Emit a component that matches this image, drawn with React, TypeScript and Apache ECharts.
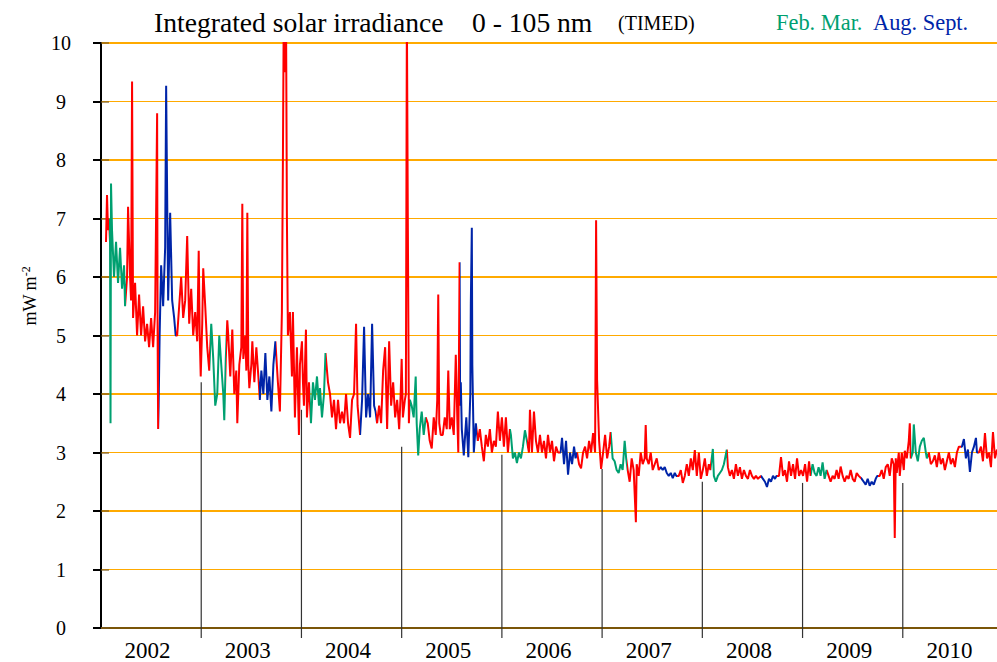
import React, { useEffect, useRef } from "react";
import * as echarts from "echarts";

const yearLabels = ["2002", "2003", "2004", "2005", "2006", "2007", "2008", "2009", "2010"];
const boundaryYears = [2003, 2004, 2005, 2006, 2007, 2008, 2009, 2010];
const boundaryTops = [4.2, 3.73, 3.1, 2.96, 2.72, 2.5, 2.48, 2.48];

const irr2002 = [
  [2002.05, 6.6], [2002.06, 7.4], [2002.07, 6.8], [2002.08, 7.0], [2002.09, 6.6], [2002.095, 3.5], [2002.10, 7.6], [2002.11, 6.8], [2002.13, 6.0], [2002.15, 6.6], [2002.17, 5.9], [2002.19, 6.5], [2002.21, 5.8], [2002.23, 6.2], [2002.24, 5.5],
  [2002.26, 6.0], [2002.27, 7.2], [2002.29, 6.0], [2002.30, 5.6], [2002.31, 9.34], [2002.32, 5.3], [2002.34, 5.9], [2002.36, 5.0], [2002.38, 5.7], [2002.40, 5.0], [2002.42, 5.5], [2002.44, 4.9], [2002.46, 5.2], [2002.48, 4.8], [2002.50, 5.3], [2002.52, 4.8], [2002.54, 5.4], [2002.56, 8.8], [2002.565, 5.0], [2002.57, 3.4], [2002.575, 3.8],
  [2002.585, 5.0], [2002.60, 6.2], [2002.62, 5.5], [2002.64, 6.5], [2002.65, 9.27], [2002.655, 8.3], [2002.67, 5.6], [2002.69, 7.1], [2002.71, 5.6], [2002.73, 5.3], [2002.745, 5.0],
  [2002.76, 5.0], [2002.78, 5.5], [2002.80, 6.0], [2002.82, 5.3], [2002.84, 5.6], [2002.86, 6.7], [2002.88, 5.2], [2002.90, 5.8], [2002.92, 5.0], [2002.94, 5.4], [2002.96, 4.9], [2002.975, 6.45], [2002.985, 5.0], [2002.995, 4.3],
];
const irr2003 = [
  [2003.01, 5.2], [2003.02, 6.15], [2003.04, 5.5], [2003.06, 4.8], [2003.08, 4.4],
  [2003.10, 5.2], [2003.12, 4.6], [2003.14, 3.8], [2003.16, 4.0], [2003.18, 5.0], [2003.20, 4.5], [2003.22, 4.0], [2003.23, 3.55], [2003.245, 4.6],
  [2003.26, 5.26], [2003.27, 5.0], [2003.29, 4.3], [2003.31, 5.1], [2003.33, 4.0], [2003.35, 4.4], [2003.36, 3.5], [2003.38, 4.5], [2003.40, 4.8], [2003.41, 7.25], [2003.42, 4.6], [2003.44, 5.0], [2003.45, 4.4], [2003.46, 7.1], [2003.47, 4.5], [2003.48, 4.1], [2003.50, 4.5], [2003.51, 4.9], [2003.53, 4.2], [2003.55, 4.8], [2003.57, 4.3],
  [2003.585, 3.9], [2003.60, 4.4], [2003.62, 4.0], [2003.64, 4.7], [2003.66, 3.9], [2003.68, 4.3], [2003.70, 3.7], [2003.72, 4.5], [2003.74, 4.9],
  [2003.765, 4.2], [2003.785, 3.7], [2003.805, 5.4], [2003.815, 8.0], [2003.825, 11.0], [2003.835, 9.5], [2003.845, 11.0], [2003.855, 7.0], [2003.865, 5.0], [2003.885, 5.4], [2003.905, 4.3], [2003.915, 5.4], [2003.935, 3.6], [2003.955, 4.8], [2003.975, 3.3], [2003.985, 4.5],
];
const irr2004 = [
  [2004.005, 4.9], [2004.015, 4.2], [2004.025, 3.8], [2004.045, 5.1], [2004.055, 3.6], [2004.075, 4.2],
  [2004.095, 3.5], [2004.115, 4.2], [2004.135, 3.9], [2004.155, 4.3], [2004.175, 3.8], [2004.185, 4.1], [2004.205, 3.6], [2004.225, 4.0], [2004.24, 4.7],
  [2004.265, 4.2], [2004.285, 4.0], [2004.305, 3.6], [2004.325, 3.9], [2004.345, 3.4], [2004.365, 3.9], [2004.385, 3.5], [2004.405, 3.7], [2004.425, 3.5], [2004.445, 4.0], [2004.465, 3.5], [2004.485, 3.25], [2004.505, 3.9], [2004.525, 4.0], [2004.545, 5.2], [2004.56, 3.8],
  [2004.585, 3.3], [2004.605, 3.9], [2004.625, 5.15], [2004.645, 3.6], [2004.665, 4.0], [2004.685, 3.6], [2004.705, 5.2], [2004.725, 3.8], [2004.74, 3.7],
  [2004.755, 3.5], [2004.775, 3.8], [2004.795, 3.5], [2004.815, 4.4], [2004.835, 4.8], [2004.855, 3.4], [2004.875, 4.9], [2004.895, 3.8], [2004.915, 4.2], [2004.935, 3.6], [2004.955, 3.9], [2004.975, 3.4], [2004.99, 4.0],
];
const irr2005 = [
  [2005.0, 4.6], [2005.012, 3.6], [2005.032, 3.9], [2005.042, 4.0], [2005.052, 10.5], [2005.062, 6.8], [2005.072, 3.5], [2005.082, 3.9],
  [2005.10, 3.8], [2005.12, 3.6], [2005.14, 4.3], [2005.15, 3.5], [2005.165, 2.95], [2005.18, 3.4], [2005.20, 3.7], [2005.22, 3.3], [2005.24, 3.6],
  [2005.26, 3.5], [2005.28, 3.2], [2005.30, 3.07], [2005.32, 3.6], [2005.34, 3.3], [2005.355, 3.9], [2005.365, 5.7], [2005.375, 3.5], [2005.39, 3.3], [2005.41, 3.3], [2005.43, 3.6], [2005.45, 3.4], [2005.465, 4.4], [2005.48, 3.4], [2005.50, 3.6], [2005.52, 3.3], [2005.54, 4.67], [2005.555, 3.6], [2005.565, 3.0], [2005.578, 6.25], [2005.583, 3.8],
  [2005.59, 4.2], [2005.60, 3.4], [2005.62, 2.95], [2005.645, 3.6], [2005.665, 2.92], [2005.685, 4.0], [2005.69, 5.55], [2005.70, 6.84], [2005.705, 4.5], [2005.72, 3.0], [2005.74, 3.5],
  [2005.76, 3.2], [2005.78, 3.4], [2005.80, 3.1], [2005.82, 2.85], [2005.84, 3.3], [2005.86, 3.1], [2005.88, 3.4], [2005.90, 3.0], [2005.92, 3.2], [2005.94, 3.1], [2005.96, 3.7], [2005.98, 3.2],
];
const irr2006 = [
  [2006.0, 3.6], [2006.02, 3.1], [2006.04, 3.6], [2006.06, 3.0], [2006.08, 3.4],
  [2006.09, 3.3], [2006.11, 2.9], [2006.13, 3.0], [2006.15, 2.82], [2006.17, 3.0], [2006.19, 2.9], [2006.21, 3.1], [2006.23, 3.38],
  [2006.25, 3.2], [2006.27, 3.0], [2006.28, 3.73], [2006.30, 3.0], [2006.32, 3.7], [2006.34, 3.2], [2006.36, 3.0], [2006.38, 3.3], [2006.40, 3.0], [2006.42, 3.2], [2006.44, 2.9], [2006.46, 3.3], [2006.48, 3.0], [2006.50, 3.2], [2006.52, 2.85], [2006.54, 3.1], [2006.56, 3.0],
  [2006.585, 3.0], [2006.60, 3.25], [2006.62, 2.8], [2006.64, 3.2], [2006.66, 2.62], [2006.68, 3.0], [2006.70, 2.8], [2006.72, 3.1], [2006.735, 2.9],
  [2006.75, 3.0], [2006.77, 2.8], [2006.79, 2.73], [2006.81, 3.0], [2006.83, 3.1], [2006.85, 2.9], [2006.87, 3.2], [2006.89, 3.0], [2006.91, 3.33], [2006.93, 3.0], [2006.94, 6.97], [2006.95, 4.24], [2006.97, 3.2], [2006.99, 2.72],
];
const irr2007 = [
  [2007.01, 3.0], [2007.03, 3.3], [2007.05, 2.9], [2007.07, 3.1], [2007.085, 3.35],
  [2007.105, 2.9], [2007.125, 2.85], [2007.145, 2.7], [2007.165, 2.65], [2007.185, 2.8], [2007.205, 2.7], [2007.225, 3.2], [2007.24, 2.9],
  [2007.255, 2.7], [2007.275, 2.5], [2007.295, 2.9], [2007.315, 2.7], [2007.337, 1.81], [2007.345, 2.8], [2007.365, 2.6], [2007.385, 3.0], [2007.405, 2.8], [2007.425, 2.9], [2007.435, 3.47], [2007.445, 2.9], [2007.465, 2.8], [2007.485, 3.0], [2007.505, 2.7], [2007.525, 2.8], [2007.545, 2.9], [2007.565, 2.7],
  [2007.585, 2.75], [2007.605, 2.7], [2007.625, 2.75], [2007.645, 2.65], [2007.665, 2.6], [2007.685, 2.65], [2007.705, 2.56], [2007.725, 2.65], [2007.74, 2.6],
  [2007.765, 2.6], [2007.785, 2.7], [2007.805, 2.48], [2007.825, 2.6], [2007.845, 2.8], [2007.865, 2.6], [2007.885, 2.9], [2007.905, 2.7], [2007.925, 3.04], [2007.945, 2.6], [2007.965, 3.0], [2007.985, 2.55],
];
const irr2008 = [
  [2008.005, 2.7], [2008.025, 2.9], [2008.045, 2.6], [2008.065, 2.8], [2008.08, 2.7],
  [2008.105, 3.06], [2008.115, 2.6], [2008.135, 2.5], [2008.155, 2.6], [2008.175, 2.65], [2008.195, 2.7], [2008.215, 2.8], [2008.244, 3.05],
  [2008.255, 2.75], [2008.275, 2.6], [2008.295, 2.7], [2008.315, 2.55], [2008.335, 2.8], [2008.355, 2.6], [2008.375, 2.75], [2008.395, 2.55], [2008.415, 2.7], [2008.435, 2.6], [2008.455, 2.55], [2008.475, 2.7], [2008.495, 2.6], [2008.515, 2.55], [2008.535, 2.6], [2008.555, 2.55],
  [2008.585, 2.6], [2008.605, 2.55], [2008.625, 2.5], [2008.645, 2.41], [2008.665, 2.55], [2008.685, 2.5], [2008.705, 2.6], [2008.725, 2.55], [2008.74, 2.6],
  [2008.765, 2.6], [2008.785, 2.92], [2008.805, 2.6], [2008.825, 2.7], [2008.845, 2.5], [2008.865, 2.85], [2008.885, 2.6], [2008.905, 2.8], [2008.925, 2.55], [2008.945, 2.9], [2008.965, 2.6], [2008.985, 2.7],
];
const irr2009 = [
  [2009.005, 2.6], [2009.025, 2.8], [2009.045, 2.5], [2009.065, 2.85], [2009.08, 2.6],
  [2009.10, 2.8], [2009.12, 2.65], [2009.14, 2.6], [2009.16, 2.75], [2009.18, 2.6], [2009.20, 2.83], [2009.22, 2.55], [2009.24, 2.7],
  [2009.26, 2.6], [2009.28, 2.5], [2009.30, 2.6], [2009.32, 2.55], [2009.34, 2.7], [2009.36, 2.55], [2009.38, 2.76], [2009.40, 2.6], [2009.42, 2.5], [2009.44, 2.6], [2009.46, 2.55], [2009.48, 2.7], [2009.50, 2.55], [2009.52, 2.5], [2009.54, 2.65], [2009.56, 2.6],
  [2009.59, 2.55], [2009.61, 2.5], [2009.63, 2.45], [2009.65, 2.55], [2009.67, 2.43], [2009.69, 2.5], [2009.71, 2.45], [2009.73, 2.55], [2009.745, 2.6],
  [2009.77, 2.6], [2009.79, 2.7], [2009.81, 2.55], [2009.83, 2.75], [2009.85, 2.8], [2009.87, 2.6], [2009.89, 2.9], [2009.91, 2.8], [2009.92, 1.54], [2009.93, 2.9], [2009.94, 2.65], [2009.96, 3.0], [2009.97, 2.6], [2009.99, 3.0],
];
const irr2010 = [
  [2010.01, 2.7], [2010.02, 3.03], [2010.04, 2.9], [2010.06, 3.2], [2010.07, 3.5], [2010.08, 2.9],
  [2010.10, 3.0], [2010.11, 3.48], [2010.13, 3.0], [2010.15, 2.85], [2010.17, 3.1], [2010.19, 3.2], [2010.21, 3.25], [2010.23, 3.0], [2010.24, 2.9],
  [2010.26, 3.0], [2010.28, 2.8], [2010.30, 2.85], [2010.32, 2.95], [2010.34, 2.75], [2010.36, 3.0], [2010.38, 2.8], [2010.40, 2.9], [2010.42, 2.7], [2010.44, 2.85], [2010.46, 3.0], [2010.48, 2.8], [2010.50, 2.9], [2010.52, 2.75], [2010.54, 3.0], [2010.56, 3.1],
  [2010.59, 3.1], [2010.61, 3.23], [2010.63, 2.9], [2010.65, 3.05], [2010.67, 2.67], [2010.69, 3.0], [2010.71, 3.1], [2010.73, 3.25], [2010.74, 3.0],
  [2010.76, 3.0], [2010.78, 3.1], [2010.80, 2.85], [2010.82, 3.33], [2010.84, 2.9], [2010.86, 3.0], [2010.88, 2.75], [2010.90, 3.35], [2010.92, 2.9], [2010.94, 3.05],
];

const RED = "#ff0000";
const GREEN = "#00a070";
const BLUE = "#0024a8";
const ORANGE = "#ffaa00";
const BROWN = "#7a5508";
const SERIF = "'Liberation Serif', 'Times New Roman', serif";

// month boundaries as fractions of a year (Feb 1, Apr 1, Aug 1, Oct 1)
const FEB = 31 / 365;
const APR = 90 / 365;
const AUG = 212 / 365;
const OCT = 273 / 365;

export default function App() {
  const ref = useRef<HTMLDivElement>(null);
  useEffect(() => {
    const irradiance = [
      ...irr2002, ...irr2003, ...irr2004, ...irr2005, ...irr2006,
      ...irr2007, ...irr2008, ...irr2009, ...irr2010,
    ];
    const pieces: any[] = [];
    for (let y = 2001; y <= 2011; y++) {
      pieces.push({ gte: y, lt: y + FEB, color: RED });
      pieces.push({ gte: y + FEB, lt: y + APR, color: GREEN });
      pieces.push({ gte: y + APR, lt: y + AUG, color: RED });
      pieces.push({ gte: y + AUG, lt: y + OCT, color: BLUE });
      pieces.push({ gte: y + OCT, lt: y + 1, color: RED });
    }
    const titleStyle = (size: number, color: string) => ({
      fontFamily: SERIF, fontSize: size, fontWeight: "normal", color,
    });
    const chart = echarts.init(ref.current!, undefined, { renderer: "svg" });
    chart.setOption({
      animation: false,
      backgroundColor: "#ffffff",
      title: [
        { text: "Integrated solar irradiance", left: 154, top: 8, padding: 0, textStyle: titleStyle(27.6, "#000") },
        { text: "0 - 105 nm", left: 472, top: 8, padding: 0, textStyle: titleStyle(27.6, "#000") },
        { text: "(TIMED)", left: 618, top: 13, padding: 0, textStyle: titleStyle(20, "#000") },
        { text: "Feb. Mar.", left: 776, top: 11, padding: 0, textStyle: titleStyle(22.4, GREEN) },
        { text: "Aug. Sept.", left: 873, top: 11, padding: 0, textStyle: titleStyle(22.4, BLUE) },
      ],
      graphic: [
        {
          type: "text",
          x: 30,
          y: 296,
          rotation: Math.PI / 2,
          style: {
            text: "mW m{sup|-2}",
            fontFamily: SERIF,
            fontSize: 18,
            fill: "#000",
            align: "center",
            verticalAlign: "middle",
            lineHeight: 20,
            rich: { sup: { fontFamily: SERIF, fontSize: 12, verticalAlign: "top", lineHeight: 12, fill: "#000" } },
          },
        },
      ],
      visualMap: {
        type: "piecewise",
        show: false,
        dimension: 0,
        seriesIndex: 1,
        pieces,
      },
      grid: { left: 101, top: 43, width: 902, height: 585, containLabel: false, outerBoundsMode: "none" },
      xAxis: [
        {
          type: "value", min: 2002, max: 2011, position: "bottom",
          axisLine: { show: true, lineStyle: { color: BROWN, width: 2 } },
          axisTick: { show: false }, axisLabel: { show: false }, splitLine: { show: false },
        },
        {
          type: "category", data: yearLabels, position: "bottom", boundaryGap: true,
          axisLine: { show: false }, axisTick: { show: false }, splitLine: { show: false },
          axisLabel: { interval: 0, fontFamily: SERIF, fontSize: 23, color: "#000", margin: 11, padding: [0, 7, 0, 0] },
        },
        {
          type: "value", min: 2002, max: 2011, position: "top",
          axisLine: { show: true, lineStyle: { color: BROWN, width: 2 } },
          axisTick: { show: false }, axisLabel: { show: false }, splitLine: { show: false },
        },
      ],
      yAxis: [
        {
          type: "value", min: 0, max: 10, interval: 1, position: "left",
          axisLine: { show: true, lineStyle: { color: "#000", width: 2 } },
          axisTick: { show: true, inside: false, length: 8, lineStyle: { color: "#000", width: 2 } },
          axisLabel: { fontFamily: SERIF, fontSize: 20, color: "#000", align: "center", margin: 40 },
          splitLine: { show: true, lineStyle: { color: ORANGE, width: 1 } },
        },
        {
          type: "value", min: 0, max: 10, interval: 2, position: "left",
          axisLine: { show: false }, axisTick: { show: false }, axisLabel: { show: false },
          splitLine: { show: true, lineStyle: { color: ORANGE, width: 2 } },
        },
        {
          type: "value", min: 0, max: 10, interval: 1, position: "left",
          axisLine: { show: false }, axisLabel: { show: false }, splitLine: { show: false },
          axisTick: { show: true, inside: true, length: 8, lineStyle: { color: "rgba(120,88,30,0.6)", width: 2 } },
        },
      ],
      series: [
        {
          type: "custom",
          xAxisIndex: 0,
          yAxisIndex: 0,
          silent: true,
          z: 1,
          data: boundaryYears.map((y, i) => [y, boundaryTops[i]]),
          renderItem: (params: any, api: any) => {
            const x = api.value(0);
            const top = api.value(1);
            const p1 = api.coord([x, top]);
            const p0 = api.coord([x, 0]);
            return {
              type: "line",
              shape: { x1: p1[0], y1: p1[1], x2: p0[0], y2: p0[1] + 10 },
              style: { stroke: "#333", lineWidth: 1.2 },
            };
          },
        },
        {
          type: "line",
          xAxisIndex: 0,
          yAxisIndex: 0,
          data: irradiance,
          showSymbol: false,
          silent: true,
          z: 3,
          lineStyle: { width: 2 },
        },
      ],
    });
    return () => chart.dispose();
  }, []);
  return <div ref={ref} style={{ position: "absolute", left: 0, top: 0, width: 997, height: 662 }} />;
}
